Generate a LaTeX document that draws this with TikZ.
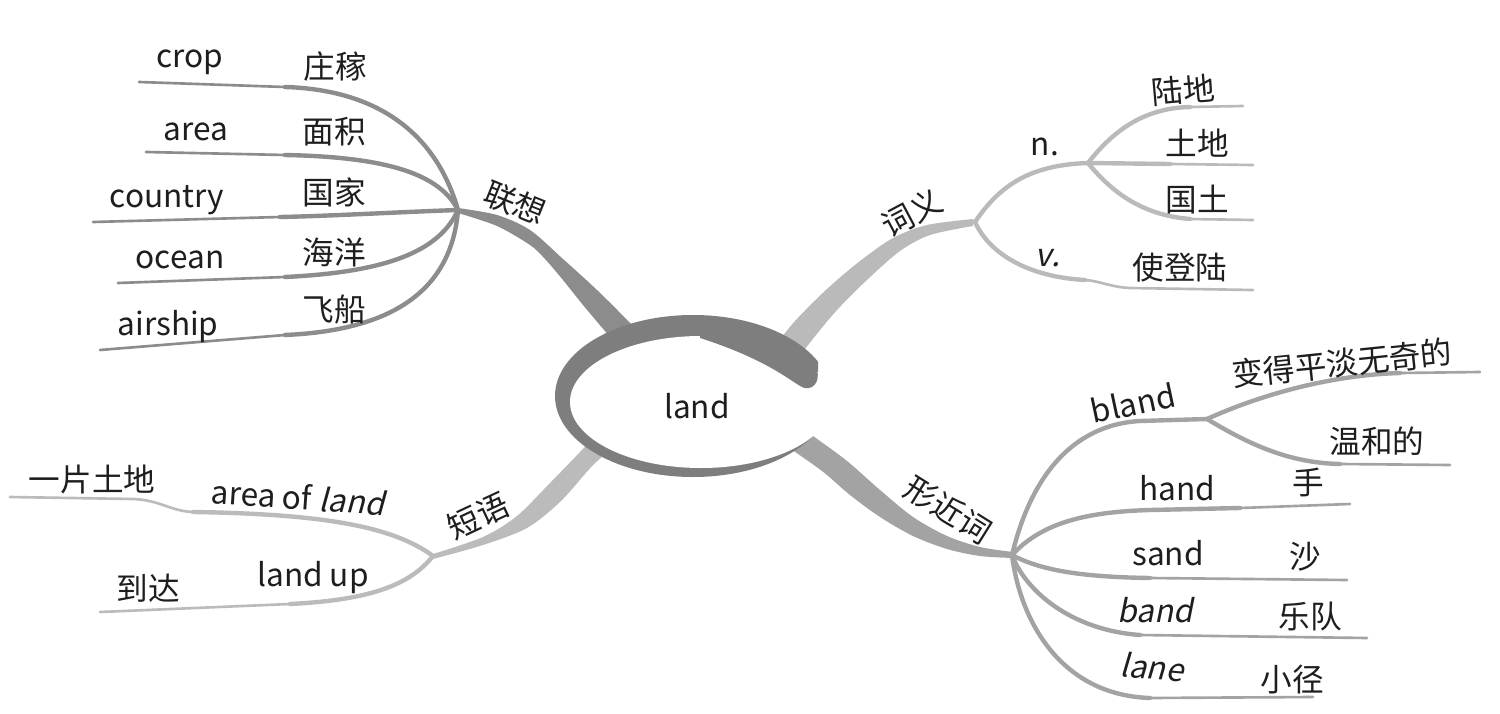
\documentclass[tikz,border=0pt]{standalone}
\usepackage{fontspec}
\setmainfont{Noto Sans CJK SC}
\newfontfamily\slfont[FakeSlant=0.2]{Noto Sans CJK SC}
\definecolor{cA}{HTML}{8C8C8C}
\definecolor{cB}{HTML}{BABABA}
\definecolor{cC}{HTML}{A3A3A3}
\definecolor{cD}{HTML}{BBBBBB}
\definecolor{ringc}{HTML}{7E7E7E}
\definecolor{txt}{HTML}{1E1E1E}
\begin{document}
\begin{tikzpicture}[x=0.02cm,y=-0.02cm,
  lbl/.style={font=\fontsize{18}{20}\selectfont, text=txt, inner sep=0pt},
  thickln/.style={draw=#1, line width=2.5pt, line cap=round},
  thinln/.style={draw=#1, line width=1.5pt, line cap=round}]
\useasboundingbox[fill=white] (0,0) rectangle (1500,713);

% hubs
\coordinate (hubL) at (458,210);
\coordinate (hubR) at (975,222);
\coordinate (hubN) at (1088,163);
\coordinate (hubX) at (1012,555);
\coordinate (hubB) at (1207,419);
\coordinate (hubP) at (433,556);

% free ends
\coordinate (eCrop) at (139,82);
\coordinate (eArea) at (146,152);
\coordinate (eCountry) at (93,222);
\coordinate (eOcean) at (118,283);
\coordinate (eAirship) at (100,350);
\coordinate (eLudi) at (1243,106);
\coordinate (eTudi) at (1253,165);
\coordinate (eGuotu) at (1253,220);
\coordinate (eV) at (1253,290);
\coordinate (eBian) at (1480,372);
\coordinate (eWen) at (1450,465);
\coordinate (eHand) at (1350,504);
\coordinate (eSand) at (1347,580);
\coordinate (eBand) at (1367,638);
\coordinate (eLane) at (1313,697);
\coordinate (eAol) at (10,497);
\coordinate (eLup) at (100,612);

% trunks
\fill[cA] plot[smooth,tension=0.5] coordinates {(458,208) (497,215) (530,230) (563,259) (597,290) (632,325) (660,355)}
  -- plot[smooth,tension=0.5] coordinates {(640,372) (610,337) (583,305) (563,280) (545,259) (530,245) (497,226) (458,213)} -- cycle;
\fill[cB] plot[smooth,tension=0.5] coordinates {(973,219) (927,225) (893,238) (860,261) (827,289) (795,321) (770,352)}
  -- plot[smooth,tension=0.5] coordinates {(792,366) (812,340) (837,310) (868,279) (900,251) (930,235) (973,226)} -- cycle;
\fill[cC] plot[smooth,tension=0.5] coordinates {(790,420) (813,436) (847,461) (880,490) (913,517) (947,536) (980,547) (1013,552)}
  -- plot[smooth,tension=0.5] coordinates {(1013,558) (980,556) (947,549) (913,536) (880,517) (850,495) (822,471) (785,445)} -- cycle;
\fill[cD] plot[smooth,tension=0.5] coordinates {(433,554) (483,537) (517,516) (550,483) (580,452) (600,430)}
  -- plot[smooth,tension=0.5] coordinates {(617,446) (594,464) (561,501) (527,528) (483,545) (433,559)} -- cycle;

% sub branches: lianxiang
\draw[thickln=cA] (hubL) .. controls (438,140) and (385,90) .. (285,87) coordinate (kCrop);
\draw[thinln=cA] (kCrop) -- (eCrop);
\draw[thickln=cA] (hubL) .. controls (440,175) and (390,157) .. (285,155) coordinate (kArea);
\draw[thinln=cA] (kArea) -- (eArea);
\draw[thickln=cA] (hubL) .. controls (400,212) and (330,216) .. (280,217) coordinate (kCountry);
\draw[thinln=cA] (kCountry) -- (eCountry);
\draw[thickln=cA] (hubL) .. controls (440,250) and (390,272) .. (285,277) coordinate (kOcean);
\draw[thinln=cA] (kOcean) -- (eOcean);
\draw[thickln=cA] (hubL) .. controls (452,285) and (400,330) .. (285,335) coordinate (kAirship);
\draw[thinln=cA] (kAirship) -- (eAirship);
% ciyi
\draw[thickln=cB] (hubR) .. controls (1000,185) and (1030,165) .. (hubN);
\draw[thickln=cB] (hubN) .. controls (1110,135) and (1140,108) .. (1190,107) coordinate (kLudi);
\draw[thinln=cB] (kLudi) -- (eLudi);
\draw[thickln=cB] (hubN) -- (1170,164) coordinate (kTudi);
\draw[thinln=cB] (kTudi) -- (eTudi);
\draw[thickln=cB] (hubN) .. controls (1110,190) and (1140,215) .. (1190,219) coordinate (kGuotu);
\draw[thinln=cB] (kGuotu) -- (eGuotu);
\draw[thickln=cB] (hubR) .. controls (990,255) and (1030,277) .. (1085,280) coordinate (kV);
\draw[thinln=cB] (kV) .. controls (1100,281) and (1110,287) .. (1130,288) -- (eV);
% xingjinci
\draw[thickln=cC] (hubX) .. controls (1030,480) and (1070,425) .. (1140,421) -- (hubB);
\draw[thickln=cC] (hubB) .. controls (1260,395) and (1330,375) .. (1400,373) coordinate (kBian);
\draw[thinln=cC] (kBian) -- (eBian);
\draw[thickln=cC] (hubB) .. controls (1250,445) and (1290,463) .. (1340,464) coordinate (kWen);
\draw[thinln=cC] (kWen) -- (eWen);
\draw[thickln=cC] (hubX) .. controls (1040,525) and (1080,512) .. (1150,510) -- (1240,508) coordinate (kHand);
\draw[thinln=cC] (kHand) -- (eHand);
\draw[thickln=cC] (hubX) .. controls (1040,570) and (1080,577) .. (1150,578) coordinate (kSand);
\draw[thinln=cC] (kSand) -- (eSand);
\draw[thickln=cC] (hubX) .. controls (1025,590) and (1070,630) .. (1140,635) coordinate (kBand);
\draw[thinln=cC] (kBand) -- (eBand);
\draw[thickln=cC] (hubX) .. controls (1020,620) and (1060,695) .. (1150,698) coordinate (kLane);
\draw[thinln=cC] (kLane) -- (eLane);
% duanyu
\draw[thickln=cD] (hubP) .. controls (395,528) and (330,514) .. (193,512) coordinate (kAol);
\draw[thinln=cD] (kAol) .. controls (170,511) and (160,500) .. (133,499) -- (eAol);
\draw[thickln=cD] (hubP) .. controls (410,585) and (370,600) .. (290,604) coordinate (kLup);
\draw[thinln=cD] (kLup) -- (eLup);

% central ring
\begin{scope}
\clip (500,280) -- (818,280) -- (818,395) -- (900,395) -- (900,520) -- (500,520) -- cycle;
\fill[ringc] (693,396) ellipse [x radius=138, y radius=81];
\end{scope}
\fill[white] (701,402) ellipse [x radius=131, y radius=66];
\fill[ringc] (700,330) .. controls (760,333) and (805,350) .. (815,365)
  .. controls (822,378) and (815,390) .. (805,388)
  .. controls (795,386) and (775,362) .. (700,338) -- cycle;
\node[lbl] (land) at (697,406) {land};

% labels
\node[lbl] (tCrop) at (190,62) {crop};
\node[lbl] (zCrop) at (335,67) {庄稼};
\node[lbl] (tArea) at (196,132) {area};
\node[lbl] (zArea) at (334,132) {面积};
\node[lbl] (tCountry) at (167,200) {country};
\node[lbl] (zCountry) at (334,192) {国家};
\node[lbl] (tOcean) at (180,260) {ocean};
\node[lbl] (zOcean) at (334,252) {海洋};
\node[lbl] (tAirship) at (168,327) {airship};
\node[lbl] (zAirship) at (334,310) {飞船};
\node[lbl,rotate=-22] (lianxiang) at (515,203) {联想};

\node[lbl,rotate=28] (ciyi) at (912,213) {词义};
\node[lbl] (tN) at (1045,147) {n.};
\node[lbl,rotate=5] (zLudi) at (1183,90) {陆地};
\node[lbl] (zTudi) at (1197,143) {土地};
\node[lbl] (zGuotu) at (1197,200) {国土};
\node[lbl] (tV) at (1048,258) {\slfont v.};
\node[lbl] (zShi) at (1180,268) {使登陆};

\node[lbl,rotate=-32] (xingjinci) at (948,510) {形近词};
\node[lbl,rotate=12] (tBland) at (1133,403) {bland};
\node[lbl,rotate=6] (zBian) at (1342,363) {变得平淡无奇的};
\node[lbl] (zWen) at (1377,441) {温和的};
\node[lbl] (tHand) at (1177,488) {hand};
\node[lbl] (zHand) at (1308,482) {手};
\node[lbl] (tSand) at (1168,553) {sand};
\node[lbl] (zSand) at (1305,557) {沙};
\node[lbl] (tBand) at (1155,610) {\slfont band};
\node[lbl] (zBand) at (1310,617) {乐队};
\node[lbl,rotate=-5] (tLane) at (1152,667) {\slfont lane};
\node[lbl] (zLane) at (1292,680) {小径};

\node[lbl,rotate=25] (duanyu) at (478,516) {短语};
\node[lbl,rotate=-4] (tAol) at (298,497) {area of {\slfont land}};
\node[lbl] (zAol) at (92,480) {一片土地};
\node[lbl] (tLup) at (313,578) {land up};
\node[lbl] (zLup) at (148,588) {到达};
\end{tikzpicture}
\end{document}
